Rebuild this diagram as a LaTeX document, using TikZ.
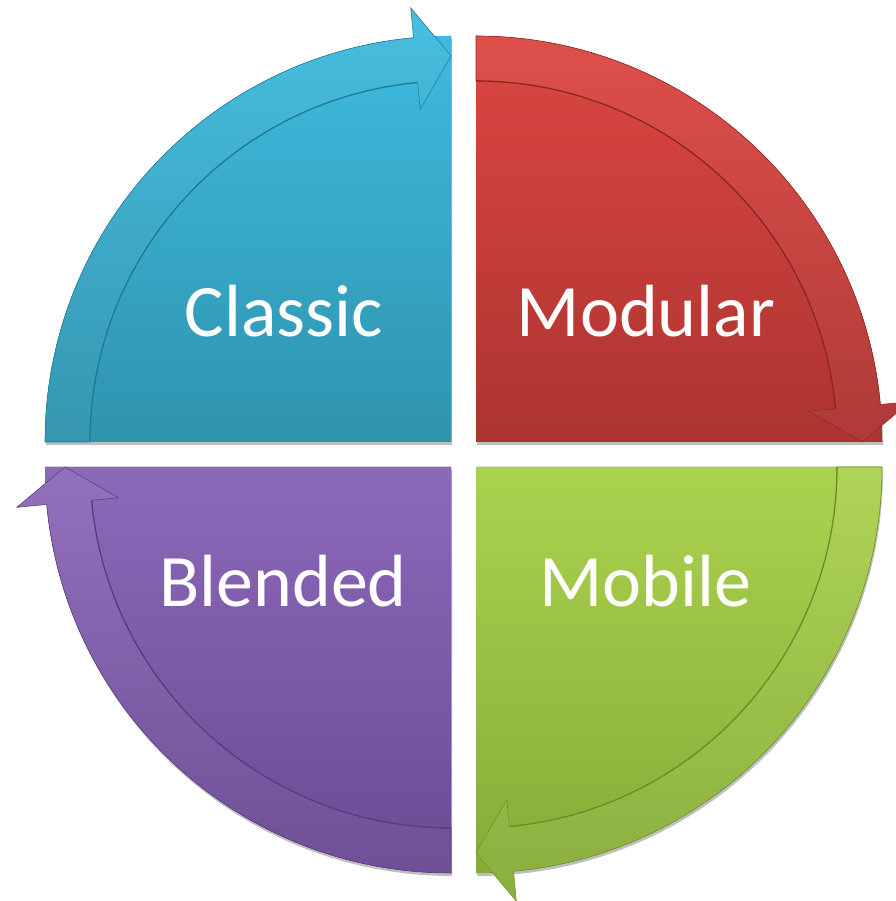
\documentclass[tikz,border=0pt]{standalone}
\usepackage{fontspec}
\setmainfont{Carlito}
\usetikzlibrary{calc, shadows}

\definecolor{blueTop}{HTML}{3EBBDF}
\definecolor{blueBot}{HTML}{2F93AE}
\definecolor{blueEdge}{HTML}{1E7A93}
\definecolor{redTop}{HTML}{DD4641}
\definecolor{redBot}{HTML}{AC3431}
\definecolor{redEdge}{HTML}{8A2624}
\definecolor{greenTop}{HTML}{ABD24E}
\definecolor{greenBot}{HTML}{86AC38}
\definecolor{greenEdge}{HTML}{6A8C28}
\definecolor{purpleTop}{HTML}{8D69BA}
\definecolor{purpleBot}{HTML}{6A4A93}
\definecolor{purpleEdge}{HTML}{573C7D}

\tikzset{
  quadshadow/.style={drop shadow={shadow xshift=1pt, shadow yshift=-3pt, opacity=0.25, fill=black}},
  labeltext/.style={text=white, anchor=base, inner sep=0pt, font=\fontsize{74}{88}\selectfont}
}

\begin{document}
\begin{tikzpicture}[x=1pt,y=1pt]
\useasboundingbox (0,0) rectangle (895,901);
\coordinate (centre) at (463.5,446.5);
\foreach \a/\top/\bot/\edge/\name/\tx/\ty in {
    180/blueTop/blueBot/blueEdge/Classic/284/564,
    90/redTop/redBot/redEdge/Modular/646/564,
    0/greenTop/greenBot/greenEdge/Mobile/645/294,
    -90/purpleTop/purpleBot/purpleEdge/Blended/283/294}{
    \coordinate (corner) at ($(centre)+(\a-45:17.68)$);
    % quarter disc
    \fill[quadshadow, top color=\top, bottom color=\bot]
        (corner) -- ($(corner)+(\a:406)$)
        arc[start angle=\a, end angle=\a-90, radius=406] -- cycle;
    % curved arrow along the rim
    \draw[\edge!70!\bot, line width=0.6pt, top color=\top!95!white, bottom color=\bot!97!white, line join=miter]
        ($(corner)+(\a:406)$)
        arc[start angle=\a, end angle=\a-84.7, radius=406]
        -- ($(corner)+(\a-84.7:436)$)
        -- ($(corner)+(\a-90:386)$)
        -- ($(corner)+(\a-84.7:334)$)
        -- ($(corner)+(\a-84.7:361)$)
        arc[start angle=\a-84.7, end angle=\a, radius=361] -- cycle;
    % darker inner rim of the arrow
    \draw[\edge, line width=1.2pt]
        ($(corner)+(\a-84.7:361)$)
        arc[start angle=\a-84.7, end angle=\a, radius=361];
    \node[labeltext] (\name) at (\tx,\ty) {\name};
}
\end{tikzpicture}
\end{document}
